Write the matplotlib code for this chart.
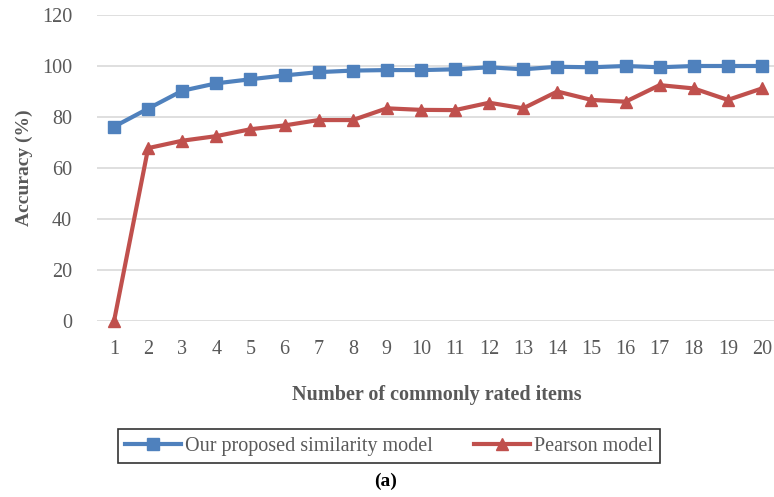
import numpy as np
import matplotlib.pyplot as plt

# commonly rated items (x) and accuracy values for both models
items = list(range(1, 21))
proposed_acc = [76.2, 83.3, 90.3, 93.2, 94.8, 96.3, 97.6, 98.2, 98.4, 98.4,
                98.7, 99.5, 98.7, 99.7, 99.5, 100.0, 99.5, 100.0, 100.0, 100.0]
pearson_acc = [0.0, 67.8, 70.7, 72.5, 75.2, 76.7, 78.8, 78.8, 83.4, 82.8,
               82.7, 85.6, 83.4, 90.0, 86.7, 86.0, 92.5, 91.2, 86.7, 91.2]
y_ticks = [0, 20, 40, 60, 80, 100, 120]

plt.rcParams["font.family"] = ["Liberation Serif", "DejaVu Serif"]
text_gray = "#595959"

fig = plt.figure(figsize=(7.74, 4.97), dpi=100)
ax = fig.add_axes([97 / 774, 176 / 497, 682 / 774, 306 / 497])

ax.plot(items, proposed_acc, color="#4F81BD", lw=3, marker="s", ms=8,
        label="Our proposed similarity model", clip_on=False, zorder=3)
ax.plot(items, pearson_acc, color="#C0504D", lw=3, marker="^", ms=9,
        label="Pearson model", clip_on=False, zorder=3)

ax.set_xlim(0.5, 20.5)
ax.set_ylim(0, 120)
ax.set_xticks(items)
ax.set_yticks(y_ticks)
ax.tick_params(length=0, labelsize=14.5, colors=text_gray)
ax.tick_params(axis="x", pad=14)
ax.tick_params(axis="y", pad=18)
ax.grid(axis="y", color="#d9d9d9", lw=1.2)
ax.set_axisbelow(True)
for s in ax.spines.values():
    s.set_visible(False)

ax.set_ylabel("Accuracy (%)", fontsize=14, fontweight="bold", color=text_gray, labelpad=6)
fig.text(437 / 774, 1 - 395 / 497, "Number of commonly rated items", ha="center", va="center",
         fontsize=14.5, fontweight="bold", color=text_gray)

leg = fig.legend(loc="center", bbox_to_anchor=(389 / 774, 1 - 446 / 497), ncol=2,
                 fontsize=14.5, frameon=True, fancybox=False, edgecolor="black",
                 handlelength=2.8, handletextpad=0.2, columnspacing=2.0,
                 borderpad=0.35, borderaxespad=0)
leg.get_frame().set_linewidth(1.2)
for t in leg.get_texts():
    t.set_color(text_gray)

fig.text(386 / 774, 1 - 481 / 497, "(a)", ha="center", va="center",
         fontsize=14, fontweight="bold", color="black")

fig.savefig("out.png", dpi=100)
